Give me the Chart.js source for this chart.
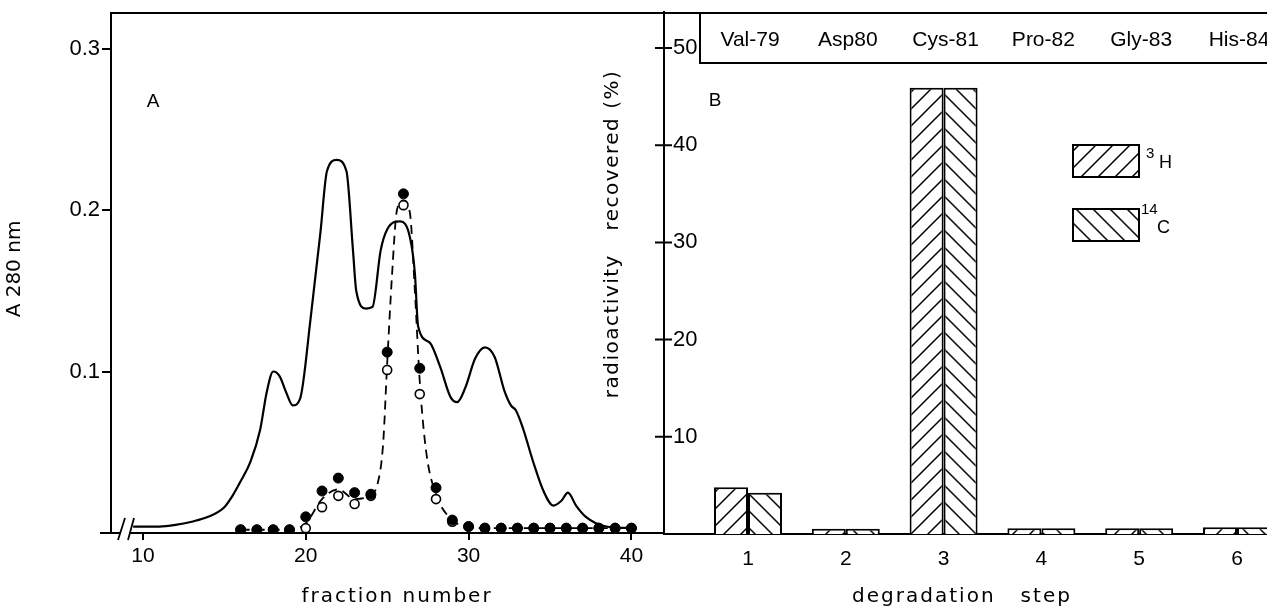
<!DOCTYPE html>
<html>
<head>
<meta charset="utf-8">
<script src="https://cdn.jsdelivr.net/npm/chart.js@4.4.1/dist/chart.umd.min.js"></script>
<style>
  html, body { margin: 0; padding: 0; background: #fff; }
  #wrap { position: relative; width: 1267px; height: 608px; overflow: hidden; }
  canvas { position: absolute; left: 0; top: 0; }
</style>
</head>
<body>
<div id="wrap">
  <canvas id="chartA" width="1267" height="608"></canvas>
  <canvas id="chartB" width="1267" height="608"></canvas>
</div>
<script>
// ---- panel A: A280 elution profile ----
const traceFraction = [9.4, 11, 12, 13, 14, 15, 15.5, 16, 16.6, 17.2, 17.6, 18, 18.4, 18.8, 19.2,
  19.65, 20.3, 20.9, 21.3, 21.9, 22.5, 22.9, 23.1, 23.7, 24.1, 24.6, 25.0, 25.8, 26.4, 26.7,
  26.9, 27.6, 28.25, 28.9, 29.3, 29.8, 30.4, 31.0, 31.6, 32.2, 32.6, 32.9, 33.3, 34.0, 34.6,
  35.2, 35.7, 36.1, 36.6, 37.2, 38.45, 40];
const traceA280 = [0.004, 0.004, 0.005, 0.007, 0.010, 0.016, 0.023, 0.032, 0.044, 0.064, 0.087, 0.100, 0.097, 0.087, 0.079,
  0.083, 0.133, 0.186, 0.224, 0.231, 0.224, 0.175, 0.150, 0.139, 0.140, 0.175, 0.188, 0.193, 0.183, 0.161,
  0.128, 0.118, 0.103, 0.084, 0.081, 0.090, 0.108, 0.115, 0.109, 0.088, 0.079, 0.076, 0.066, 0.043, 0.026,
  0.017, 0.020, 0.025, 0.017, 0.010, 0.004, 0.003];

// radioactivity per fraction (filled and open circles)
const dotFraction = [16, 17, 18, 19, 20, 21, 22, 23, 24, 25, 26, 27, 28, 29, 30, 31, 32, 33, 34, 35, 36, 37, 38, 39, 40];
const filledDots = [0.002, 0.002, 0.002, 0.002, 0.010, 0.026, 0.034, 0.025, 0.024, 0.112, 0.210, 0.102, 0.028, 0.008,
  0.004, 0.003, 0.003, 0.003, 0.003, 0.003, 0.003, 0.003, 0.003, 0.003, 0.003];
const openDots = [0.002, 0.002, 0.002, 0.002, 0.003, 0.016, 0.023, 0.018, 0.023, 0.101, 0.203, 0.086, 0.021, 0.007,
  0.004, 0.003, 0.003, 0.003, 0.003, 0.003, 0.003, 0.003, 0.003, 0.003, 0.003];

// dashed curve drawn through the circles
const dashFraction = [16, 17, 18, 19, 20, 21, 22, 23, 24, 24.4, 24.75, 25, 25.3, 25.6, 26, 26.4, 26.7, 27, 27.4,
  28, 29, 30, 31, 32, 33, 34, 35, 36, 37, 38, 39, 40];
const dashValue = [0.002, 0.002, 0.002, 0.002, 0.006, 0.021, 0.027, 0.021, 0.024, 0.030, 0.055, 0.105, 0.160, 0.200,
  0.206, 0.198, 0.150, 0.094, 0.050, 0.024, 0.008, 0.004, 0.003, 0.003, 0.003, 0.003, 0.003, 0.003, 0.003, 0.003, 0.003, 0.003];

const fractionTicks = [10, 20, 30, 40];
const a280Ticks = [0.1, 0.2, 0.3];

// ---- panel B: Edman degradation ----
const steps = [1, 2, 3, 4, 5, 6];
const residues = ["Val-79", "Asp80", "Cys-81", "Pro-82", "Gly-83", "His-84"];
const tritium = [4.8, 0.55, 45.9, 0.6, 0.6, 0.7];
const carbon14 = [4.25, 0.55, 45.9, 0.6, 0.6, 0.7];
const percentTicks = [10, 20, 30, 40, 50];

const black = "#000";
const tickFont = { family: "Liberation Sans", size: 22 };
const stepFont = { family: "Liberation Sans", size: 21 };
const HATCH = 17;

function pts(xs, ys) {
  return xs.map((x, i) => ({ x: x, y: ys[i] }));
}

// diagonal hatch: dir 1 = "/", dir -1 = "\"
function hatch(ctx, dir) {
  const s = HATCH;
  const c = document.createElement("canvas");
  c.width = s; c.height = s;
  const g = c.getContext("2d");
  g.fillStyle = "#fff";
  g.fillRect(0, 0, s, s);
  g.strokeStyle = black;
  g.lineWidth = 1.5;
  g.beginPath();
  if (dir > 0) {
    g.moveTo(-2, s + 2); g.lineTo(s + 2, -2);
    g.moveTo(-2, 2); g.lineTo(2, -2);
    g.moveTo(s - 2, s + 2); g.lineTo(s + 2, s - 2);
  } else {
    g.moveTo(-2, -2); g.lineTo(s + 2, s + 2);
    g.moveTo(s - 2, -2); g.lineTo(s + 2, 2);
    g.moveTo(-2, s - 2); g.lineTo(2, s + 2);
  }
  g.stroke();
  return ctx.createPattern(c, "repeat");
}

function noPad(s) {
  s.paddingLeft = 0; s.paddingRight = 0; s.paddingTop = 0; s.paddingBottom = 0;
}

// extra frame, axis break and texts of panel A
const frameA = {
  id: "frameA",
  afterDraw(chart) {
    const { ctx, chartArea: ca } = chart;
    ctx.save();
    ctx.strokeStyle = black;
    ctx.lineWidth = 2;
    ctx.beginPath();
    ctx.moveTo(ca.left - 1, ca.top);
    ctx.lineTo(ca.right, ca.top);
    ctx.moveTo(ca.left - 11, ca.bottom);
    ctx.lineTo(ca.left, ca.bottom);
    ctx.stroke();
    // axis break "//"
    ctx.fillStyle = "#fff";
    ctx.fillRect(ca.left + 10, ca.bottom - 2, 9, 4);
    ctx.lineWidth = 1.8;
    ctx.beginPath();
    ctx.moveTo(ca.left + 7, ca.bottom + 7); ctx.lineTo(ca.left + 14, ca.bottom - 15);
    ctx.moveTo(ca.left + 17, ca.bottom + 7); ctx.lineTo(ca.left + 23, ca.bottom - 15);
    ctx.stroke();

    ctx.fillStyle = black;
    ctx.textAlign = "center";
    ctx.textBaseline = "middle";
    ctx.font = '19px "Liberation Sans"';
    ctx.fillText("A", 153, 102);

    ctx.font = '20px "DejaVu Sans"';
    ctx.letterSpacing = "2px";
    ctx.fillText("fraction number", 397, 597);
    ctx.letterSpacing = "0px";
    ctx.translate(15, 269);
    ctx.rotate(-Math.PI / 2);
    ctx.fillText("A 280 nm", 0, 0);
    ctx.restore();
  }
};

// residue box, crossing ticks, legend and texts of panel B
const frameB = {
  id: "frameB",
  beforeDatasetsDraw(chart) {
    // shift the "\" hatch so both halves of a bar pair meet in chevrons
    const x0 = chart.scales.x.getPixelForValue(steps[0]);
    const shift = (2 * x0) % HATCH;
    chart.data.datasets[1].backgroundColor.setTransform(new DOMMatrix().translate(shift, 0));
  },
  afterDraw(chart) {
    const { ctx, chartArea: ca, scales } = chart;
    const x = scales.x, y = scales.y;
    ctx.save();
    ctx.strokeStyle = black;
    ctx.lineWidth = 2;
    ctx.beginPath();
    ctx.moveTo(ca.left, ca.top);
    ctx.lineTo(ca.right, ca.top);
    const boxL = ca.left + 36, boxB = ca.top + 50;
    ctx.moveTo(boxL, ca.top);
    ctx.lineTo(boxL, boxB);
    ctx.lineTo(ca.right, boxB);
    ctx.moveTo(ca.left, ca.top - 2);
    ctx.lineTo(ca.left, ca.top);
    percentTicks.forEach(v => {
      const py = y.getPixelForValue(v);
      ctx.moveTo(ca.left - 9, py);
      ctx.lineTo(ca.left + 8, py);
    });
    ctx.stroke();

    ctx.fillStyle = black;
    ctx.textAlign = "center";
    ctx.textBaseline = "middle";
    ctx.font = '21px "Liberation Sans"';
    residues.forEach((r, i) => ctx.fillText(r, x.getPixelForValue(steps[i]) + 2, ca.top + 27));

    ctx.font = '19px "Liberation Sans"';
    ctx.fillText("B", 715, 101);

    // legend
    const ds = chart.data.datasets;
    const boxes = [[1073, 145], [1073, 209]];
    boxes.forEach((b, i) => {
      ctx.fillStyle = ds[i].backgroundColor;
      ctx.fillRect(b[0], b[1], 66, 32);
      ctx.strokeRect(b[0], b[1], 66, 32);
    });
    ctx.fillStyle = black;
    ctx.textAlign = "left";
    ctx.textBaseline = "alphabetic";
    ctx.font = '15px "Liberation Sans"';
    ctx.fillText("3", 1146, 158);
    ctx.fillText("14", 1141, 214);
    ctx.font = '18px "Liberation Sans"';
    ctx.fillText("H", 1159, 168);
    ctx.fillText("C", 1157, 233);

    // axis titles
    ctx.textAlign = "center";
    ctx.textBaseline = "middle";
    ctx.font = '20px "DejaVu Sans"';
    ctx.letterSpacing = "2px";
    ctx.fillText("degradation   step", 962, 597);
    ctx.letterSpacing = "1.5px";
    ctx.translate(613, 234);
    ctx.rotate(-Math.PI / 2);
    ctx.fillText("radioactivity   recovered (%)", 0, 0);
    ctx.restore();
  }
};

new Chart(document.getElementById("chartA"), {
  type: "line",
  data: {
    datasets: [
      {
        data: pts(traceFraction, traceA280),
        borderColor: black,
        borderWidth: 2.2,
        pointRadius: 0,
        cubicInterpolationMode: "monotone",
        order: 4
      },
      {
        data: pts(dashFraction, dashValue),
        borderColor: black,
        borderWidth: 1.8,
        borderDash: [9, 6],
        pointRadius: 0,
        cubicInterpolationMode: "monotone",
        order: 3
      },
      {
        data: pts(dotFraction, openDots),
        showLine: false,
        pointRadius: 4.5,
        pointBackgroundColor: "#fff",
        pointBorderColor: black,
        pointBorderWidth: 1.6,
        order: 2
      },
      {
        data: pts(dotFraction, filledDots),
        showLine: false,
        pointRadius: 5,
        pointBackgroundColor: black,
        pointBorderColor: black,
        pointBorderWidth: 1,
        order: 1
      }
    ]
  },
  options: {
    responsive: false,
    animation: false,
    layout: { padding: { left: 0, top: 13, right: 603, bottom: 0 } },
    plugins: { legend: { display: false }, tooltip: { enabled: false } },
    scales: {
      x: {
        type: "linear",
        min: 8.04,
        max: 42,
        afterBuildTicks: s => { s.ticks = fractionTicks.map(v => ({ value: v })); },
        afterFit: s => { s.height = 75; noPad(s); },
        grid: { drawOnChartArea: false, tickLength: 7, color: black, lineWidth: 2 },
        border: { color: black, width: 2 },
        ticks: { font: stepFont, color: black, padding: 4, maxRotation: 0 }
      },
      y: {
        min: 0,
        max: 0.322,
        afterBuildTicks: s => { s.ticks = a280Ticks.map(v => ({ value: v })); },
        afterFit: s => { s.width = 111; noPad(s); },
        grid: { drawOnChartArea: false, tickLength: 9, color: black, lineWidth: 2 },
        border: { color: black, width: 2 },
        ticks: { font: tickFont, color: black, padding: 2, callback: v => v.toFixed(1) }
      }
    }
  },
  plugins: [frameA]
});

const ctxB = document.getElementById("chartB").getContext("2d");
new Chart(ctxB, {
  type: "bar",
  data: {
    datasets: [
      {
        label: "3H",
        data: pts(steps, tritium),
        backgroundColor: hatch(ctxB, 1),
        borderColor: black,
        borderWidth: 2
      },
      {
        label: "14C",
        data: pts(steps, carbon14),
        backgroundColor: hatch(ctxB, -1),
        borderColor: black,
        borderWidth: 2
      }
    ]
  },
  options: {
    responsive: false,
    animation: false,
    categoryPercentage: 0.695,
    barPercentage: 1,
    layout: { padding: { left: 0, top: 13, right: 0, bottom: 0 } },
    plugins: { legend: { display: false }, tooltip: { enabled: false } },
    scales: {
      x: {
        type: "linear",
        offset: false,
        min: 0.141,
        max: 6.307,
        afterBuildTicks: s => { s.ticks = steps.map(v => ({ value: v })); },
        afterFit: s => { s.height = 74; noPad(s); },
        grid: { display: false, offset: false },
        border: { color: black, width: 2 },
        ticks: { font: stepFont, color: black, padding: 5, maxRotation: 0 }
      },
      y: {
        min: 0,
        max: 53.6,
        afterBuildTicks: s => { s.ticks = percentTicks.map(v => ({ value: v })); },
        afterFit: s => { s.width = 664; noPad(s); },
        grid: { display: false },
        border: { color: black, width: 2 },
        ticks: { font: tickFont, color: black, mirror: true, padding: 9 }
      }
    }
  },
  plugins: [frameB]
});
</script>
</body>
</html>
